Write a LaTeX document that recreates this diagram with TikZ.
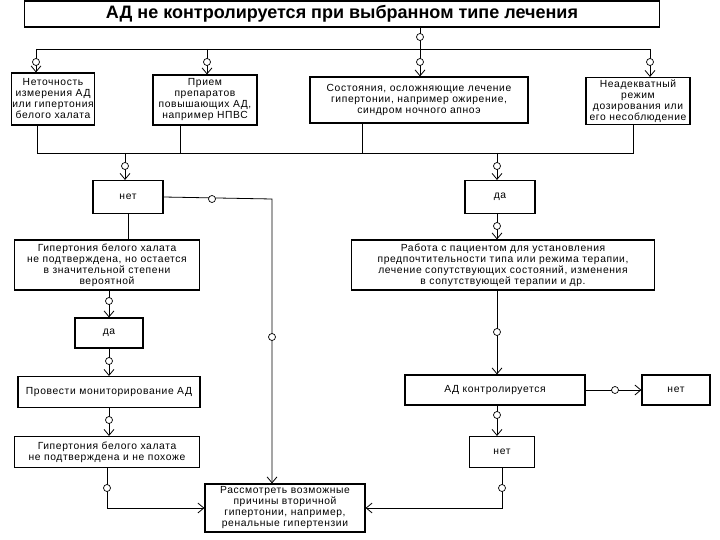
\documentclass[tikz,border=0pt]{standalone}
\usepackage{fontspec}
\setmainfont{Liberation Sans}
\newfontfamily\boxfont{Liberation Sans}[LetterSpace=6]
\usetikzlibrary{arrows.meta}

\begin{document}
\begin{tikzpicture}[x=1pt,y=-1pt,line width=.8pt,>={Straight Barb[length=6pt,width=10pt]}]
\tikzstyle{every node}=[inner sep=1pt, align=center, font=\boxfont\fontsize{10.3}{11}\selectfont]
\tikzstyle{box}=[draw, line width=1.1pt]
\tikzstyle{knot}=[circle, draw, fill=white, inner sep=0pt, minimum size=7pt, line width=.7pt]
\useasboundingbox (0,0) rectangle (720,540);
% boxes
\draw (342,14) node (title) [box, line width=1.6pt, minimum width=635pt, minimum height=26pt, font=\bfseries\fontsize{18}{19}\selectfont] {АД не контролируется при выбранном типе лечения};
\draw (53,99) node (nA) [box, minimum width=82pt, minimum height=52pt] {Неточность\\измерения АД\\или гипертония\\белого халата};
\draw (205,100) node (nB) [box, minimum width=104pt, minimum height=50pt] {Прием\\препаратов\\повышающих АД,\\например НПВС};
\draw (419,100) node (nC) [box, minimum width=218pt, minimum height=46pt] {Состояния, осложняющие лечение\\гипертонии, например ожирение,\\синдром ночного апноэ};
\draw (638,101) node (nD) [box, minimum width=104pt, minimum height=47pt] {Неадекватный\\режим\\дозирования или\\его несоблюдение};
\draw (128,197) node (no1) [box, minimum width=70pt, minimum height=33pt] {нет};
\draw (500,197) node (yes1) [box, minimum width=70pt, minimum height=33pt] {да};
\draw (107,265) node (left2) [box, minimum width=185pt, minimum height=50pt] {Гипертония белого халата\\не подтверждена, но остается\\в значительной степени\\вероятной};
\draw (503,265) node (right2) [box, minimum width=303pt, minimum height=50pt] {Работа с пациентом для установления\\предпочтительности типа или режима терапии,\\лечение сопутствующих состояний, изменения\\в сопутствующей терапии и др.};
\draw (109,333) node (yes2) [box, minimum width=68pt, minimum height=30pt] {да};
\draw (109,392) node (mon) [box, minimum width=182pt, minimum height=31pt] {Провести мониторирование АД};
\draw (107,452) node (left3) [box, minimum width=185pt, minimum height=31pt] {Гипертония белого халата\\не подтверждена и не похоже};
\draw (495,390) node (ctrl) [box, minimum width=180pt, minimum height=30pt] {АД контролируется};
\draw (676,390) node (no3) [box, minimum width=68pt, minimum height=30pt] {нет};
\draw (502,452) node (no2) [box, minimum width=65pt, minimum height=31pt] {нет};
\draw (285,508) node (final) [box, minimum width=160pt, minimum height=48pt] {Рассмотреть возможные\\причины вторичной\\гипертонии, например,\\ренальные гипертензии};
% junctions
\coordinate (t0) at (420,49);
\coordinate (b1) at (36,49);
\coordinate (b2) at (207,49);
\coordinate (b3) at (420,49);
\coordinate (b4) at (650,49);
\coordinate (c1) at (37,153);
\coordinate (c2) at (180,153);
\coordinate (c3) at (362,153);
\coordinate (c4) at (633,153);
\coordinate (d1) at (125,153);
\coordinate (d2) at (497,153);
\coordinate (j1) at (272,199);
% top bus
\draw (title.south -| t0) -- (t0);
\draw (b1) -- (b4);
\draw[->] (b1) -- (b1 |- nA.north);
\draw[->] (b2) -- (b2 |- nB.north);
\draw[->] (b3) -- (b3 |- nC.north);
\draw[->] (b4) -- (b4 |- nD.north);
% bottom bus
\draw (c1 |- nA.south) -- (c1) -- (c4) -- (c4 |- nD.south);
\draw (c2 |- nB.south) -- (c2);
\draw (c3 |- nC.south) -- (c3);
\draw[->] (d1) -- (d1 |- no1.north);
\draw[->] (d2) -- (d2 |- yes1.north);
% left branch
\draw (no1.south) -- (no1.south |- left2.north);
\draw[->] (no1.east) -- (j1) -- (j1 |- final.north);
\draw[->] (yes2.north |- left2.south) -- (yes2.north);
\draw[->] (yes2.south) -- (mon.north);
\draw[->] (mon.south) -- (mon.south |- left3.north);
\draw[->] (left3.south) |- (final.west);
% right branch
\draw[->] (yes1.south -| d2) -- (d2 |- right2.north);
\draw[->] (d2 |- right2.south) -- (d2 |- ctrl.north);
\draw[->] (ctrl.east) -- (no3.west);
\draw[->] (d2 |- ctrl.south) -- (d2 |- no2.north);
\draw[->] (no2.south) |- (final.east);
% marks on the lines
\draw (420,37) node (k1) [knot] {};
\draw (36,62) node (k2) [knot] {};
\draw (207,62) node (k3) [knot] {};
\draw (420,62) node (k4) [knot] {};
\draw (650,62) node (k5) [knot] {};
\draw (125,166) node (k6) [knot] {};
\draw (497,166) node (k7) [knot] {};
\draw (212,199) node (k8) [knot] {};
\draw (272,337) node (k9) [knot] {};
\draw (109,301) node (k10) [knot] {};
\draw (109,361) node (k11) [knot] {};
\draw (109,420) node (k12) [knot] {};
\draw (107,488) node (k13) [knot] {};
\draw (497,226) node (k14) [knot] {};
\draw (497,332) node (k15) [knot] {};
\draw (615,390) node (k16) [knot] {};
\draw (497,415) node (k17) [knot] {};
\draw (502,488) node (k18) [knot] {};
\end{tikzpicture}
\end{document}
